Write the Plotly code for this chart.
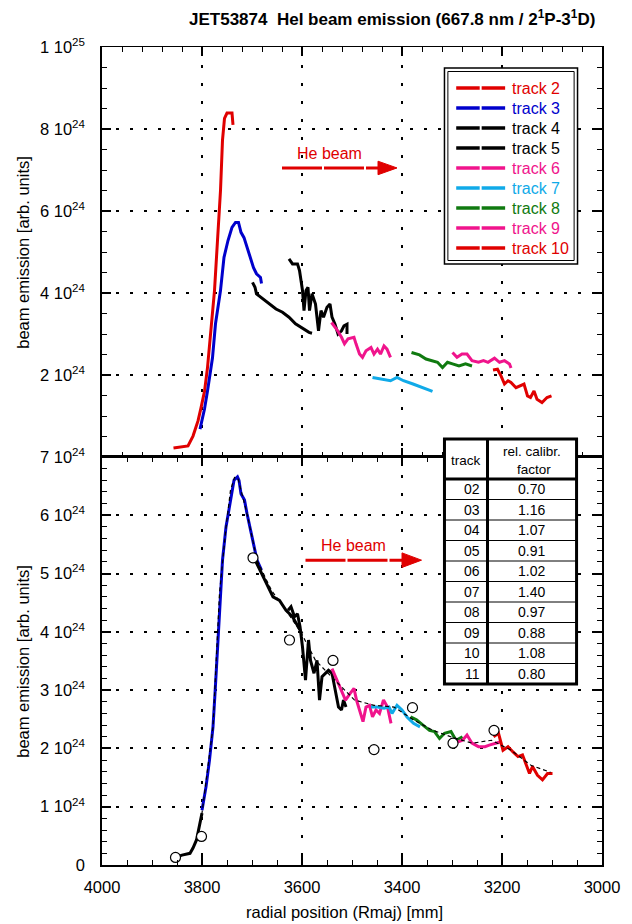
import plotly.graph_objects as go

# ---------------- DATA ----------------
# x: radial position (Rmaj) [mm]; y: beam emission in units of 1e24 [arb. units]

# top panel: raw tracks
T2_X = [3857, 3828, 3818, 3808, 3802, 3795, 3789, 3783, 3775, 3769, 3763, 3759, 3755, 3750, 3744, 3740, 3738]
T2_Y = [0.22, 0.27, 0.51, 0.88, 1.20, 1.60, 2.18, 3.08, 4.06, 5.28, 6.50, 7.73, 8.26, 8.39, 8.39, 8.39, 8.10]
T3_X = [3804, 3795, 3789, 3779, 3773, 3763, 3756, 3748, 3740, 3733, 3727, 3722, 3716, 3710, 3704, 3697, 3691, 3683, 3681]
T3_Y = [0.68, 1.17, 1.61, 2.42, 3.25, 4.06, 4.87, 5.28, 5.60, 5.72, 5.72, 5.48, 5.35, 5.11, 4.87, 4.62, 4.47, 4.38, 4.23]
T4_X = [3699, 3694, 3691, 3678, 3665, 3652, 3639, 3626, 3613, 3599, 3586, 3580]
T4_Y = [4.26, 4.14, 3.98, 3.85, 3.73, 3.61, 3.53, 3.41, 3.25, 3.13, 3.04, 3.02]
T5_X = [3626, 3619, 3609, 3605, 3599, 3596, 3592, 3588, 3585, 3580, 3573, 3567, 3562, 3557, 3550, 3544, 3540, 3534, 3528, 3521, 3516, 3510, 3510]
T5_Y = [4.83, 4.71, 4.71, 4.55, 4.06, 3.57, 4.06, 4.14, 3.57, 3.98, 3.73, 3.08, 3.57, 3.41, 3.65, 3.73, 3.41, 3.24, 3.00, 3.08, 3.20, 3.24, 3.00]
T6_X = [3541, 3531, 3521, 3515, 3508, 3496, 3492, 3485, 3479, 3472, 3462, 3456, 3449, 3443, 3436, 3430, 3423]
T6_Y = [3.28, 3.12, 2.92, 2.76, 2.88, 2.92, 2.76, 2.51, 2.43, 2.59, 2.67, 2.51, 2.63, 2.51, 2.71, 2.63, 2.43]
T7_X = [3459, 3436, 3423, 3410, 3397, 3378, 3358, 3339]
T7_Y = [1.94, 1.90, 1.86, 1.94, 1.86, 1.78, 1.69, 1.60]
T8_X = [3381, 3365, 3352, 3339, 3329, 3319, 3309, 3299, 3286, 3273, 3260]
T8_Y = [2.55, 2.49, 2.39, 2.35, 2.31, 2.18, 2.31, 2.27, 2.22, 2.27, 2.22]
T9_X = [3299, 3290, 3280, 3270, 3260, 3247, 3237, 3228, 3215, 3205, 3195, 3185, 3182]
T9_Y = [2.55, 2.43, 2.51, 2.51, 2.35, 2.31, 2.35, 2.31, 2.41, 2.31, 2.35, 2.27, 2.17]
T10_X = [3218, 3209, 3202, 3195, 3188, 3182, 3172, 3162, 3156, 3149, 3143, 3136, 3130, 3120, 3110, 3101]
T10_Y = [2.12, 2.14, 1.98, 1.78, 1.86, 1.82, 1.69, 1.74, 1.78, 1.49, 1.45, 1.61, 1.41, 1.33, 1.45, 1.49]

# bottom panel: calibrated tracks
B0_X = [3853, 3840, 3824, 3818, 3811, 3805, 3800]
B0_Y = [0.13, 0.17, 0.20, 0.29, 0.43, 0.66, 0.89]
B3_X = [3800, 3792, 3785, 3778, 3774, 3769, 3764, 3759, 3752, 3746, 3741, 3736, 3729, 3726, 3722, 3715, 3710, 3703, 3697, 3690, 3681]
B3_Y = [0.94, 1.34, 1.80, 2.37, 2.94, 3.74, 4.66, 5.23, 5.80, 6.09, 6.37, 6.60, 6.66, 6.60, 6.37, 6.26, 6.03, 5.74, 5.46, 5.23, 5.06]
B4_X = [3697, 3687, 3677, 3667, 3658, 3645, 3632, 3619, 3609, 3600]
B4_Y = [5.29, 5.11, 4.94, 4.77, 4.60, 4.54, 4.37, 4.26, 4.11, 3.97]
B5_X = [3628, 3622, 3615, 3609, 3604, 3599, 3593, 3587, 3583, 3576, 3570, 3565, 3560, 3553, 3547, 3540, 3534, 3527, 3521, 3517, 3512]
B5_Y = [4.37, 4.43, 4.26, 4.31, 4.09, 3.74, 3.17, 3.86, 3.51, 3.29, 3.51, 2.83, 3.23, 3.29, 3.34, 3.29, 3.00, 2.71, 2.66, 2.83, 2.71]
B6_X = [3540, 3530, 3520, 3513, 3504, 3496, 3491, 3485, 3478, 3472, 3465, 3459, 3452, 3445, 3437, 3429, 3422]
B6_Y = [3.37, 3.17, 2.94, 2.83, 2.94, 3.03, 2.83, 2.66, 2.46, 2.71, 2.74, 2.54, 2.66, 2.60, 2.83, 2.71, 2.43]
B7_X = [3462, 3449, 3436, 3426, 3420, 3410, 3400, 3390, 3377, 3364]
B7_Y = [2.71, 2.71, 2.69, 2.71, 2.60, 2.74, 2.66, 2.54, 2.43, 2.37]
B8_X = [3383, 3371, 3358, 3345, 3335, 3325, 3315, 3302, 3292, 3279]
B8_Y = [2.54, 2.49, 2.40, 2.31, 2.29, 2.17, 2.26, 2.29, 2.14, 2.20]
B9_X = [3289, 3279, 3270, 3260, 3247, 3234, 3224, 3214, 3204]
B9_Y = [2.11, 2.14, 2.23, 2.09, 2.03, 2.03, 2.06, 2.09, 2.11]
B10_X = [3217, 3207, 3198, 3188, 3178, 3168, 3159, 3152, 3145, 3139, 3129, 3119, 3109, 3099]
B10_Y = [2.20, 2.26, 1.97, 2.03, 1.94, 1.86, 1.89, 1.74, 1.57, 1.69, 1.54, 1.46, 1.57, 1.57]
# combined profile (dashed) and reference points (circles)
FIT_X = [3853, 3840, 3824, 3818, 3811, 3805, 3800, 3778, 3765, 3752, 3743, 3735, 3728, 3710, 3690, 3661, 3632, 3602, 3573, 3534, 3495, 3456, 3416, 3377, 3338, 3299, 3260, 3221, 3182, 3142, 3103]
FIT_Y = [0.13, 0.17, 0.20, 0.29, 0.43, 0.66, 0.89, 2.37, 4.66, 5.79, 6.43, 6.65, 6.63, 6.03, 5.23, 4.71, 4.37, 3.99, 3.51, 3.17, 2.83, 2.74, 2.71, 2.49, 2.31, 2.19, 2.09, 2.14, 1.97, 1.71, 1.59]
PTS_X = [3853, 3801, 3698, 3625, 3538, 3456, 3379, 3298, 3216]
PTS_Y = [0.13, 0.49, 5.27, 3.86, 3.51, 1.98, 2.70, 2.09, 2.31]

# legend and table
LEG_NAMES = ["track 2", "track 3", "track 4", "track 5", "track 6", "track 7", "track 8", "track 9", "track 10"]
TBL_TRACK = ["02", "03", "04", "05", "06", "07", "08", "09", "10", "11"]
TBL_FACTOR = ["0.70", "1.16", "1.07", "0.91", "1.02", "1.40", "0.97", "0.88", "1.08", "0.80"]

X_TICKS = [4000, 3800, 3600, 3400, 3200, 3000]
YB_TICKS = [0, 1, 2, 3, 4, 5, 6, 7]
YT_TICKS = [2, 4, 6, 8, 10]

# ---------------- STYLE ----------------
RED = "#e00000"
BLUE = "#0000cc"
BLACK = "#000000"
MAG = "#f0148c"
CYAN = "#10aae8"
GREEN = "#107a10"
LEG_COLORS = [RED, BLUE, BLACK, BLACK, MAG, CYAN, GREEN, MAG, RED]
FONT = "Liberation Sans, Arial, sans-serif"

W, H = 632, 924
L, R, T, B = 102, 613, 47, 865


def PX(p):
    return (p - L) / (R - L)


def PY(p):
    return (B - p) / (B - T)


SPLIT = PY(457)

fig = go.Figure()

top_tracks = [(T2_X, T2_Y, RED), (T3_X, T3_Y, BLUE), (T4_X, T4_Y, BLACK), (T5_X, T5_Y, BLACK),
              (T6_X, T6_Y, MAG), (T7_X, T7_Y, CYAN), (T8_X, T8_Y, GREEN), (T9_X, T9_Y, MAG),
              (T10_X, T10_Y, RED)]
for xs, ys, c in top_tracks:
    fig.add_trace(go.Scatter(x=xs, y=ys, mode="lines", line=dict(color=c, width=3),
                             xaxis="x2", yaxis="y2", showlegend=False, hoverinfo="skip"))

bot_tracks = [(B0_X, B0_Y, BLACK), (B3_X, B3_Y, BLUE), (B4_X, B4_Y, BLACK), (B5_X, B5_Y, BLACK),
              (B6_X, B6_Y, MAG), (B7_X, B7_Y, CYAN), (B8_X, B8_Y, GREEN), (B9_X, B9_Y, MAG),
              (B10_X, B10_Y, RED)]
for xs, ys, c in bot_tracks:
    fig.add_trace(go.Scatter(x=xs, y=ys, mode="lines", line=dict(color=c, width=3),
                             xaxis="x", yaxis="y", showlegend=False, hoverinfo="skip"))

fig.add_trace(go.Scatter(x=FIT_X, y=FIT_Y, mode="lines",
                         line=dict(color="black", width=1.2, dash="4px,3px"),
                         xaxis="x", yaxis="y", showlegend=False, hoverinfo="skip"))
fig.add_trace(go.Scatter(x=PTS_X, y=PTS_Y, mode="markers",
                         marker=dict(symbol="circle", size=10, color="white",
                                     line=dict(color="black", width=1.2)),
                         xaxis="x", yaxis="y", showlegend=False, hoverinfo="skip"))


def sup_label(v):
    if v == 0:
        return "0"
    if v == 10:
        return "1 10<sup>25</sup>"
    return f"{v} 10<sup>24</sup>"


def axis_common(lw):
    return dict(showline=True, linecolor="black", linewidth=lw, mirror="ticks",
                ticks="inside", ticklen=9, tickwidth=1.5, tickcolor="black",
                zeroline=False, showgrid=True, gridcolor="black", gridwidth=1.5,
                tickfont=dict(family=FONT, size=16.5, color="black"))


fig.update_layout(
    width=W, height=H,
    margin=dict(l=L, r=W - R, t=T, b=H - B, pad=0),
    paper_bgcolor="white", plot_bgcolor="white",
    showlegend=False,
    font=dict(family=FONT, color="black"),
    xaxis=dict(domain=[0, 1], anchor="y", range=[4000, 3000], tickvals=X_TICKS,
               ticktext=[str(v) for v in X_TICKS], griddash="3px,15px",
               ticklabelstandoff=6,
               minor=dict(ticks="inside", ticklen=5, tickwidth=1, dtick=50, tick0=3000,
                          tickcolor="black", showgrid=False),
               **axis_common(1.5)),
    xaxis2=dict(domain=[0, 1], anchor="y2", range=[4000, 3000], tickvals=X_TICKS,
                showticklabels=False, griddash="3px,15px",
                minor=dict(ticks="inside", ticklen=5, tickwidth=1, dtick=40, tick0=3000,
                           tickcolor="black", showgrid=False),
                **axis_common(1.0)),
    yaxis=dict(domain=[0, SPLIT], anchor="x", range=[0, 7], tickvals=YB_TICKS,
               ticktext=[sup_label(v) for v in YB_TICKS], griddash="3px,11px",
               ticklabelstandoff=12,
               minor=dict(ticks="inside", ticklen=5, tickwidth=1, dtick=0.2, tick0=0,
                          tickcolor="black", showgrid=False),
               **axis_common(1.5)),
    yaxis2=dict(domain=[SPLIT, 1], anchor="x2", range=[0, 10], tickvals=YT_TICKS,
                ticktext=[sup_label(v) for v in YT_TICKS], griddash="3px,11px",
                ticklabelstandoff=12,
                minor=dict(ticks="inside", ticklen=5, tickwidth=1, dtick=0.5, tick0=0,
                           tickcolor="black", showgrid=False),
                **axis_common(1.5)),
)

shapes = []
ann = []

# ----- arrows "He beam" -----
def arrow(xref, yref, x0, xb, xt, y, hh, tx, ty):
    shapes.append(dict(type="line", xref=xref, yref=yref, x0=x0, x1=xb, y0=y, y1=y,
                       line=dict(color=RED, width=3, dash="40px,2px"), layer="above"))
    shapes.append(dict(type="path", xref=xref, yref=yref,
                       path=f"M {xb},{y + hh} L {xt},{y} L {xb},{y - hh} Z",
                       fillcolor=RED, line=dict(color=RED, width=1), layer="above"))
    ann.append(dict(x=tx, y=ty, xref=xref, yref=yref, text="He beam", showarrow=False,
                    font=dict(family=FONT, size=16, color=RED), xanchor="center", yanchor="middle"))

arrow("x2", "y2", 3640, 3448, 3410, 7.05, 0.165, 3546, 7.41)
arrow("x", "y", 3593, 3400, 3361, 5.23, 0.125, 3497, 5.49)

# ----- legend box -----
shapes.append(dict(type="rect", xref="paper", yref="paper", x0=PX(452), x1=PX(588), y0=PY(264), y1=PY(68),
                   fillcolor="white", line=dict(color="black", width=1.5), layer="above"))
shapes.append(dict(type="rect", xref="paper", yref="paper", x0=PX(455.5), x1=PX(584.5), y0=PY(260.5), y1=PY(71.5),
                   line=dict(color="black", width=1), layer="above"))
for i, (name, col) in enumerate(zip(LEG_NAMES, LEG_COLORS)):
    yc = 88 + 20 * i
    for a, b in [(464, 488), (490, 514)]:
        shapes.append(dict(type="line", xref="paper", yref="paper", x0=PX(a), x1=PX(b), y0=PY(yc), y1=PY(yc),
                           line=dict(color=col, width=3.5), layer="above"))
    ann.append(dict(x=PX(519), y=PY(yc), xref="paper", yref="paper", text=name, showarrow=False,
                    xanchor="left", yanchor="middle", font=dict(family=FONT, size=16, color=col)))

# ----- calibration table -----
TL, TS, TR = 452, 496, 587
TT, THB, RH = 439, 479, 20.5
TBOT = THB + RH * len(TBL_TRACK)
shapes.append(dict(type="rect", xref="paper", yref="paper", x0=PX(TL), x1=PX(TR), y0=PY(TBOT), y1=PY(TT),
                   fillcolor="white", line=dict(color="black", width=3), layer="above"))
for k in range(1, len(TBL_TRACK)):
    yy = THB + RH * k
    shapes.append(dict(type="line", xref="paper", yref="paper", x0=PX(TL), x1=PX(TR), y0=PY(yy), y1=PY(yy),
                       line=dict(color="black", width=1), layer="above"))
shapes.append(dict(type="line", xref="paper", yref="paper", x0=PX(TL), x1=PX(TR), y0=PY(THB), y1=PY(THB),
                   line=dict(color="black", width=3), layer="above"))
shapes.append(dict(type="line", xref="paper", yref="paper", x0=PX(TS), x1=PX(TS), y0=PY(TBOT), y1=PY(TT),
                   line=dict(color="black", width=3), layer="above"))
ann.append(dict(x=PX(474), y=PY(460), xref="paper", yref="paper", text="track", showarrow=False,
                font=dict(family=FONT, size=13.5, color="black"), xanchor="center", yanchor="middle"))
ann.append(dict(x=PX(541), y=PY(451), xref="paper", yref="paper", text="rel. calibr.", showarrow=False,
                font=dict(family=FONT, size=13.5, color="black"), xanchor="center", yanchor="middle"))
ann.append(dict(x=PX(543), y=PY(469), xref="paper", yref="paper", text="factor", showarrow=False,
                font=dict(family=FONT, size=13.5, color="black"), xanchor="center", yanchor="middle"))
for k, (tr, fa) in enumerate(zip(TBL_TRACK, TBL_FACTOR)):
    yc = THB + RH * (k + 0.5)
    ann.append(dict(x=PX(490), y=PY(yc), xref="paper", yref="paper", text=tr, showarrow=False,
                    font=dict(family=FONT, size=14, color="black"), xanchor="right", yanchor="middle"))
    ann.append(dict(x=PX(541), y=PY(yc), xref="paper", yref="paper", text=fa, showarrow=False,
                    font=dict(family=FONT, size=14, color="black"), xanchor="center", yanchor="middle"))

# ----- titles -----
ann.append(dict(x=PX(398), y=PY(18), xref="paper", yref="paper",
                text="<b>JET53874&nbsp; HeI beam emission (667.8 nm / 2<sup>1</sup>P-3<sup>1</sup>D)</b>",
                showarrow=False, xanchor="center", yanchor="middle",
                font=dict(family=FONT, size=17, color="black")))
for yc in (252, 661):
    ann.append(dict(x=PX(21), y=PY(yc), xref="paper", yref="paper", text="beam emission [arb. units]",
                    textangle=-90, showarrow=False, xanchor="center", yanchor="middle",
                    font=dict(family=FONT, size=16.5, color="black")))
ann.append(dict(x=PX(350), y=PY(912), xref="paper", yref="paper", text="radial position (Rmaj) [mm]",
                showarrow=False, xanchor="center", yanchor="middle",
                font=dict(family=FONT, size=16.5, color="black")))

fig.update_layout(shapes=shapes, annotations=ann)
fig.write_html("out.html")
